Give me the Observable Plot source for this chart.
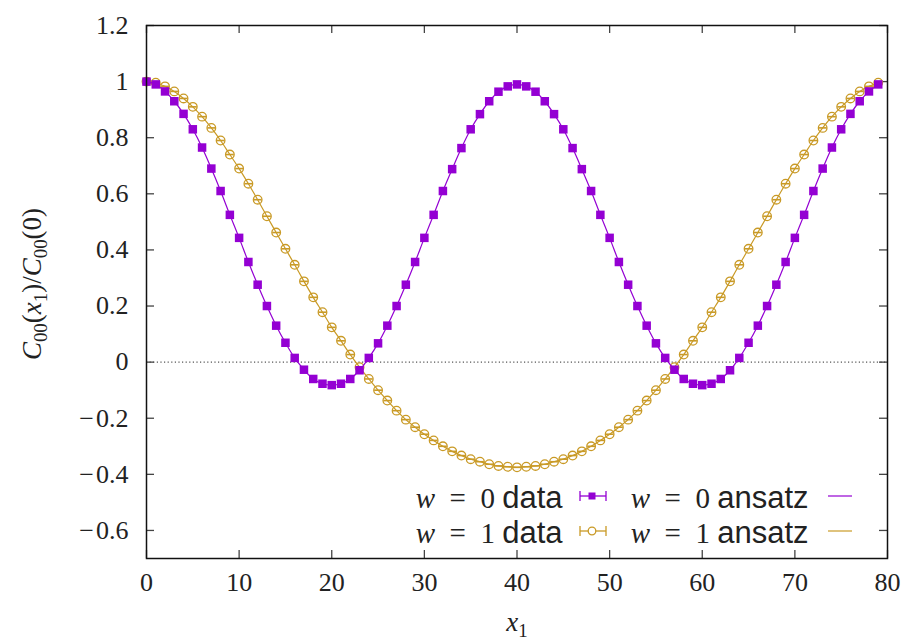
<!DOCTYPE html>
<html><head><meta charset="utf-8">
<script src="https://cdn.jsdelivr.net/npm/d3@7"></script>
<script src="https://cdn.jsdelivr.net/npm/@observablehq/plot@0.6"></script>
<style>body{margin:0;background:#fff}</style>
</head><body><div id="chart"></div>
<script>
// ---- data ----
const x1Values = [0,1,2,3,4,5,6,7,8,9,10,11,12,13,14,15,16,17,18,19,20,21,22,23,24,25,26,27,28,29,30,31,32,33,34,35,36,37,38,39,40,41,42,43,44,45,46,47,48,49,50,51,52,53,54,55,56,57,58,59,60,61,62,63,64,65,66,67,68,69,70,71,72,73,74,75,76,77,78,79];
const w0Data = [1.0,0.99,0.965,0.93,0.885,0.83,0.765,0.69,0.61,0.525,0.443,0.357,0.276,0.2,0.13,0.069,0.015,-0.027,-0.06,-0.077,-0.082,
  -0.077,-0.06,-0.029,0.015,0.067,0.13,0.2,0.276,0.357,0.443,0.525,0.61,0.688,0.763,0.83,0.884,0.93,0.964,0.983,0.99,
  0.983,0.964,0.93,0.884,0.83,0.763,0.688,0.61,0.525,0.443,0.357,0.276,0.2,0.13,0.067,0.015,-0.027,-0.06,-0.077,-0.082,
  -0.077,-0.06,-0.029,0.015,0.069,0.13,0.2,0.276,0.357,0.443,0.525,0.61,0.69,0.765,0.83,0.885,0.93,0.965,0.99];
const w1Data = [1.0,0.996,0.983,0.965,0.94,0.91,0.875,0.835,0.79,0.74,0.69,0.636,0.579,0.52,0.462,0.404,0.347,0.288,0.231,0.178,0.124,
  0.076,0.027,-0.018,-0.06,-0.1,-0.137,-0.173,-0.205,-0.232,-0.257,-0.279,-0.3,-0.318,-0.333,-0.346,-0.355,-0.364,-0.37,-0.373,-0.375,
  -0.373,-0.37,-0.364,-0.355,-0.346,-0.333,-0.318,-0.3,-0.279,-0.257,-0.232,-0.205,-0.173,-0.137,-0.1,-0.06,-0.018,0.027,0.076,0.124,
  0.178,0.231,0.288,0.347,0.404,0.462,0.52,0.579,0.636,0.69,0.74,0.79,0.835,0.875,0.91,0.94,0.965,0.983,0.996];
const xTicks = [0,10,20,30,40,50,60,70,80];
const yTicks = [-0.6,-0.4,-0.2,0,0.2,0.4,0.6,0.8,1,1.2];
const wValues = ["0", "1"];
const colors = {w0: "#9400d3", w1: "#c99a26"};

// ---- layout ----
const W = 903, H = 640, mL = 146, mR = 16, mT = 25, mB = 82;
const pw = W - mL - mR, ph = H - mT - mB, tk = 8;
const serif = "'Liberation Serif', serif";
const sans = "'Liberation Sans', sans-serif";

const w0 = x1Values.map((x, i) => ({x, y: w0Data[i]}));
const w1 = x1Values.map((x, i) => ({x, y: w1Data[i]}));
const eb = 0.42;
const fmt = d => (d < 0 ? "\u2212\u200A" : "") + String(Math.abs(d));

const legRows = [
  {w: wValues[0], dy: -62, c: colors.w0, sym: "square"},
  {w: wValues[1], dy: -27, c: colors.w1, sym: "circle"}
];
legRows.forEach(r => { r.label = `w = ${r.w} data`; r.lab2 = `w = ${r.w} ansatz`; });

const chart = Plot.plot({
  width: W, height: H,
  marginLeft: mL, marginRight: mR, marginTop: mT, marginBottom: mB,
  x: {domain: [0, 80]},
  y: {domain: [-0.7, 1.2]},
  marks: [
    Plot.ruleY([0], {stroke: "#555", strokeWidth: 1.2, strokeDasharray: "1.2,2.4"}),
    // inward ticks (mirrored)
    Plot.ruleY(yTicks, {y: d => d, insetRight: pw - tk, stroke: "#444", strokeWidth: 1.3}),
    Plot.ruleY(yTicks, {y: d => d, insetLeft: pw - tk, stroke: "#444", strokeWidth: 1.3}),
    Plot.ruleX(xTicks, {x: d => d, insetTop: ph - tk, stroke: "#444", strokeWidth: 1.3}),
    Plot.ruleX(xTicks, {x: d => d, insetBottom: ph - tk, stroke: "#444", strokeWidth: 1.3}),
    Plot.axisX(xTicks, {tickSize: 0, tickPadding: 14, fontSize: 26, fontFamily: serif, fill: "#222", label: null, tickFormat: fmt}),
    Plot.axisY(yTicks, {tickSize: 0, tickPadding: 18, fontSize: 26, fontFamily: serif, fill: "#222", label: null, tickFormat: fmt}),
    // w=1 ansatz line + data
    Plot.line(w1, {x: "x", y: "y", stroke: colors.w1, strokeWidth: 1.2, curve: "catmull-rom"}),
    Plot.link(w1, {x1: d => d.x - eb, x2: d => d.x + eb, y1: "y", y2: "y", stroke: colors.w1, strokeWidth: 1.6}),
    Plot.dot(w1, {x: "x", y: "y", r: 4.3, stroke: colors.w1, strokeWidth: 1.3, fill: "none", symbol: "circle"}),
    // w=0 ansatz line + data
    Plot.line(w0, {x: "x", y: "y", stroke: colors.w0, strokeWidth: 1.2, curve: "catmull-rom"}),
    Plot.dot(w0, {x: "x", y: "y", r: 4.8, fill: colors.w0, symbol: "square"}),
    Plot.frame({stroke: "#111", strokeWidth: 1.5}),
    // axis titles
    Plot.text(["C00(x1)/C00(0)"], {frameAnchor: "left", dx: -114, dy: -8, rotate: -90, textAnchor: "middle", fontSize: 27, fontFamily: serif, fill: "#222"}),
    Plot.text(["x1"], {frameAnchor: "bottom", dy: 72, textAnchor: "middle", fontSize: 27, fontFamily: serif, fill: "#222"}),
    // legend texts
    Plot.text(legRows, {frameAnchor: "bottom-right", text: "label", textAnchor: "end", fontSize: 31, fontFamily: sans, fill: "#222"}),
    Plot.text(legRows, {frameAnchor: "bottom-right", text: "lab2", textAnchor: "end", fontSize: 31, fontFamily: sans, fill: "#222"}),
  ]
});

const svg = d3.select(chart);
function byText(s) { return svg.selectAll("text").filter(function() { return this.textContent === s; }); }
function rich(textSel, parts, anchor) {
  textSel.text(null).attr("text-anchor", anchor);
  let shift = 0;
  for (const p of parts) {
    const t = textSel.append("tspan").text(p.t);
    const target = p.sub ? 6 : 0;
    if (target !== shift) { t.attr("dy", target - shift); shift = target; }
    if (p.i) t.attr("font-style", "italic");
    if (p.sub) t.attr("font-size", "0.7em");
    if (p.f) t.attr("font-family", p.f);
    if (p.s) t.attr("font-size", p.s);
  }
}
rich(byText("C00(x1)/C00(0)"), [
  {t: "C", i: true}, {t: "00", sub: true}, {t: "("}, {t: "x", i: true}, {t: "1", sub: true},
  {t: ")/"}, {t: "C", i: true}, {t: "00", sub: true}, {t: "(0)"}
], "middle");
rich(byText("x1"), [{t: "x", i: true}, {t: "1", sub: true}], "middle");

legRows.forEach(row => {
  const cy = 558 + row.dy;
  const a = byText(row.label);
  a.attr("transform", `translate(562,${cy})`).attr("y", null).attr("dy", "0.36em");
  rich(a, [{t: "w", i: true, f: serif, s: 29}, {t: "\u2002=\u2002" + row.w + " ", f: serif, s: 29}, {t: "data"}], "end");
  const b = byText(row.lab2);
  b.attr("transform", `translate(808,${cy})`).attr("y", null).attr("dy", "0.36em");
  rich(b, [{t: "w", i: true, f: serif, s: 29}, {t: "\u2002=\u2002" + row.w + " ", f: serif, s: 29}, {t: "ansatz"}], "end");
});

// legend samples
const lg = svg.append("g");
legRows.forEach(row => {
  const cy = 558 + row.dy;
  lg.append("line").attr("x1", 580).attr("x2", 606).attr("y1", cy).attr("y2", cy).attr("stroke", row.c).attr("stroke-width", 1.3);
  lg.append("line").attr("x1", 580).attr("x2", 580).attr("y1", cy - 5).attr("y2", cy + 5).attr("stroke", row.c).attr("stroke-width", 1.3);
  lg.append("line").attr("x1", 606).attr("x2", 606).attr("y1", cy - 5).attr("y2", cy + 5).attr("stroke", row.c).attr("stroke-width", 1.3);
  if (row.sym === "square") lg.append("rect").attr("x", 588.5).attr("y", cy - 3.5).attr("width", 7).attr("height", 7).attr("fill", row.c);
  else lg.append("circle").attr("cx", 592).attr("cy", cy).attr("r", 3.8).attr("fill", "white").attr("stroke", row.c).attr("stroke-width", 1.3);
  lg.append("line").attr("x1", 828).attr("x2", 852).attr("y1", cy).attr("y2", cy).attr("stroke", row.c).attr("stroke-width", 1.2);
});

document.getElementById("chart").append(chart);
</script>
</body></html>
